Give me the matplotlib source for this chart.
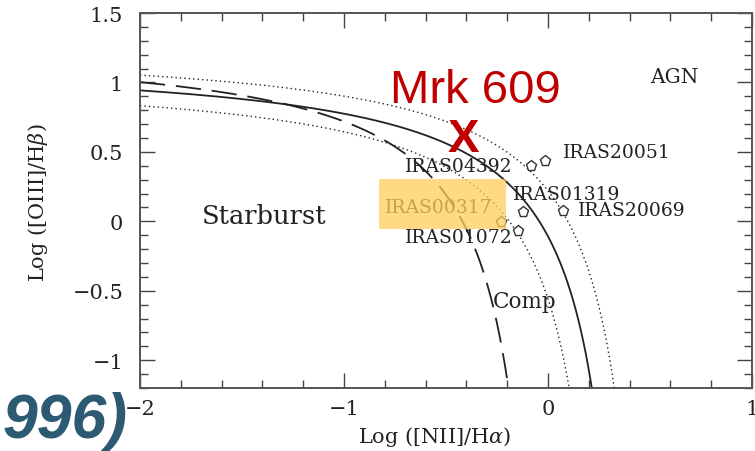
import numpy as np
import matplotlib.pyplot as plt
from matplotlib.ticker import MultipleLocator, FixedLocator
from matplotlib.patches import Rectangle

plt.rcParams["mathtext.fontset"] = "dejavuserif"

# demarcation curves: log([OIII]/Hb) = a / (log([NII]/Ha) - b) + c
kewley = (0.61, 0.47, 1.19)
kewley_hi = (0.61, 0.57, 1.29)
kewley_lo = (0.61, 0.37, 1.09)
kauffmann = (0.61, 0.05, 1.30)

# galaxies on the diagram
names = ["IRAS04392", "IRAS20051", "IRAS01319", "IRAS20069", "IRAS00317", "IRAS01072"]
log_nii = [-0.083, -0.015, -0.123, 0.074, -0.23, -0.147]
log_oiii = [0.40, 0.435, 0.07, 0.074, -0.005, -0.07]
label_x = [-0.70, 0.074, -0.172, 0.147, -0.80, -0.70]
label_y = [0.40, 0.50, 0.197, 0.081, 0.103, -0.113]

mrk_x, mrk_y = -0.414, 0.632

serif = "DejaVu Serif"
ink = "#222222"

fig = plt.figure(figsize=(7.55, 4.52), dpi=100)
ax = fig.add_axes([0.1854, 0.1394, 0.8106, 0.8296])


def curve(p, xmax):
    a, b, c = p
    x = np.linspace(-2.0, xmax, 600)
    return x, a / (x - b) + c


x, y = curve(kewley, 0.455)
ax.plot(x, y, color=ink, lw=1.3)
x, y = curve(kewley_hi, 0.555)
ax.plot(x, y, color=ink, lw=1.0, ls=(0, (1, 2.2)))
x, y = curve(kewley_lo, 0.355)
ax.plot(x, y, color=ink, lw=1.0, ls=(0, (1, 2.2)))
x, y = curve(kauffmann, 0.035)
ax.plot(x, y, color=ink, lw=1.3, ls=(0, (14, 6)))

ax.plot(log_nii, log_oiii, ls="none", marker="p", ms=8, mfc="white",
        mec="#333333", mew=1.0, zorder=4)
for n, tx, ty in zip(names, label_x, label_y):
    ax.text(tx, ty, n, family=serif, fontsize=13.5, color=ink,
            ha="left", va="center", zorder=5)

ax.text(-1.696, 0.045, "Starburst", family=serif, fontsize=18.5, color=ink,
        ha="left", va="center")
ax.text(0.50, 1.046, "AGN", family=serif, fontsize=14.5, color=ink,
        ha="left", va="center")
ax.text(-0.27, -0.574, "Comp", family=serif, fontsize=15.5, color=ink,
        ha="left", va="center")

# highlighted object
ax.add_patch(Rectangle((-0.828, -0.056), 0.622, 0.36, facecolor="#FFCD5A",
                       edgecolor="none", alpha=0.75, zorder=6))

ax.text(-0.358, 0.858, "Mrk 609", family="Liberation Sans", fontsize=34,
        color="#C00000", ha="center", va="baseline", zorder=7)
ax.text(mrk_x, 0.506, "X", family="Liberation Sans", fontweight="bold",
        fontsize=34, color="#C00000", ha="center", va="baseline", zorder=7)

ax.set_xlim(-2, 1)
ax.set_ylim(-1.2, 1.5)
ax.xaxis.set_major_locator(FixedLocator([-2, -1, 0, 1]))
ax.xaxis.set_minor_locator(MultipleLocator(0.2))
ax.yaxis.set_major_locator(FixedLocator([-1, -0.5, 0, 0.5, 1, 1.5]))
ax.yaxis.set_minor_locator(MultipleLocator(0.1))
ax.set_xticklabels(["\u22122", "\u22121", "0", "1"])
ax.set_yticklabels(["\u22121", "\u22120.5", "0", "0.5", "1", "1.5"])

for s in ax.spines.values():
    s.set_color("#555555")
    s.set_linewidth(1.4)
ax.tick_params(which="both", direction="in", top=True, right=True,
               color="#444444", width=1.0)
ax.tick_params(which="major", length=11)
ax.tick_params(which="minor", length=6)
ax.tick_params(axis="y", which="major", pad=12, labelsize=15,
               labelcolor=ink)
ax.tick_params(axis="x", which="major", pad=8, labelsize=15,
               labelcolor=ink)
for lab in ax.get_xticklabels() + ax.get_yticklabels():
    lab.set_family(serif)

ax.set_xlabel("Log ([NII]/H$\\alpha$)", family=serif, fontsize=15, color=ink)
ax.set_ylabel("Log ([OIII]/H$\\beta$)", family=serif, fontsize=15, color=ink)
ax.xaxis.set_label_coords(0.482, -0.128)
ax.xaxis.label.set_va("center")
ax.yaxis.set_label_coords(-0.167, 0.496)
ax.yaxis.label.set_va("center")

fig.text(0.004, 0.031, "996)", family="Liberation Sans", fontweight="bold",
         fontstyle="italic", fontsize=45, color="#2B5A72", ha="left",
         va="baseline", zorder=10)

fig.savefig("out.png", dpi=100)
